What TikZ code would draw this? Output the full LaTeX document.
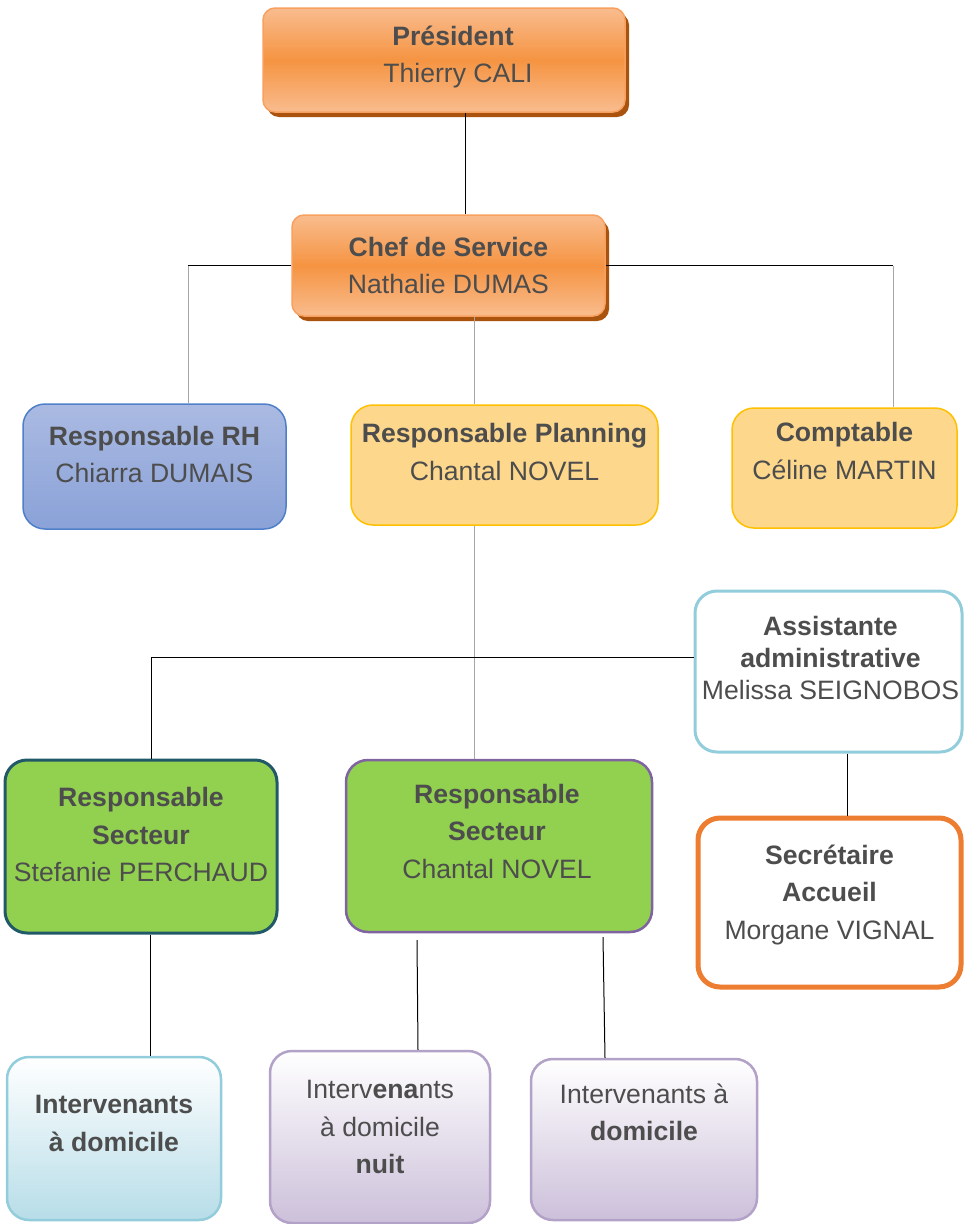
\documentclass[tikz,border=0pt]{standalone}
\usepackage{fontspec}
\setmainfont{Liberation Sans}
\usepackage{xcolor}
\usepackage{tikz}
\usetikzlibrary{shadows}

\definecolor{txtgray}{HTML}{4D4D4D}
\definecolor{linkgray}{HTML}{A6A6A6}
\definecolor{orgtop}{HTML}{F9BC8E}
\definecolor{orgmid}{HTML}{F59442}
\definecolor{orgline}{HTML}{F7A060}
\definecolor{orgshadow}{HTML}{A9530F}
\definecolor{rhtop}{HTML}{AABAE2}
\definecolor{rhbot}{HTML}{8AA2D8}
\definecolor{rhline}{HTML}{4F7FC8}
\definecolor{yelfill}{HTML}{FDD88C}
\definecolor{yelline}{HTML}{FFC000}
\definecolor{cyanline}{HTML}{92CDDC}
\definecolor{cyanbot}{HTML}{B7DDE8}
\definecolor{greenfill}{HTML}{92D050}
\definecolor{tealline}{HTML}{215968}
\definecolor{purpline}{HTML}{8064A2}
\definecolor{lilaline}{HTML}{B3A2C7}
\definecolor{lilabot}{HTML}{CCC0DA}
\definecolor{secline}{HTML}{ED7D31}

\begin{document}
\begin{tikzpicture}[
    x=1pt, y=-1pt,
    card/.style={rounded corners=22pt, line width=1.5pt},
    orgbox/.style={card, rounded corners=12pt, draw=orgline, shading=axis,
                   top color=orgtop, bottom color=orgtop, middle color=orgmid,
                   drop shadow={shadow xshift=4pt, shadow yshift=-5pt, fill=orgshadow, opacity=1}},
    txt/.style={align=center, text=txtgray, font=\fontsize{26.6}{37.5}\selectfont},
    link/.style={draw=black, line width=1pt},
    linkg/.style={draw=linkgray, line width=1pt},
  ]
    \useasboundingbox (0,0) rectangle (964,1224);

    % --- Direction ---
    \node[orgbox, minimum width=362, minimum height=104,
          label={[txt, xshift=9pt, yshift=3pt]center:{\textbf{Président}\hspace{10pt}\\\hspace{10pt}Thierry CALI}}] (pres) at (444,60) {};
    \node[orgbox, minimum width=313, minimum height=101,
          label={[txt]center:{\textbf{Chef de Service}\\Nathalie DUMAS}}] (chef) at (448.5,265.5) {};

    % --- Services ---
    \node[card, draw=rhline, top color=rhtop, bottom color=rhbot, minimum width=263, minimum height=125,
          label={[txt, yshift=12pt]center:{\textbf{Responsable RH}\\Chiarra DUMAIS}}] (rh) at (154.5,466.5) {};
    \node[card, draw=yelline, fill=yelfill, minimum width=307, minimum height=120,
          label={[txt, yshift=13pt]center:{\textbf{Responsable Planning}\\Chantal NOVEL}}] (plan) at (504.5,465) {};
    \node[card, draw=yelline, fill=yelfill, minimum width=225, minimum height=120,
          label={[txt, yshift=17pt]center:{\textbf{Comptable}\hspace{10pt}\\Céline MARTIN}}] (compt) at (844.5,468) {};

    % --- Administration ---
    \node[card, draw=cyanline, fill=white, line width=3pt, minimum width=267, minimum height=161,
          label={[txt, font=\fontsize{26.6}{32}\selectfont, xshift=2pt, yshift=14pt]center:{\textbf{Assistante}\\\textbf{administrative}\\Melissa SEIGNOBOS}}] (assist) at (828.5,671.5) {};
    \node[card, draw=secline, fill=white, line width=5pt, minimum width=263, minimum height=169,
          label={[txt, yshift=8pt]center:{\textbf{Secrétaire}\\\textbf{Accueil}\\Morgane VIGNAL}}] (sec) at (829.5,902.5) {};

    % --- Secteurs ---
    \node[card, draw=tealline, fill=greenfill, line width=3pt, minimum width=272, minimum height=173,
          label={[txt, yshift=12pt]center:{\textbf{Responsable}\\\textbf{Secteur}\\Stefanie PERCHAUD}}] (rs1) at (141,846.5) {};
    \node[card, draw=purpline, fill=greenfill, line width=2.5pt, minimum width=306, minimum height=172,
          label={[txt, xshift=-2pt, yshift=15pt]center:{\textbf{Responsable}\\\textbf{Secteur}\\Chantal NOVEL}}] (rs2) at (499,846) {};

    % --- Intervenants ---
    \node[card, draw=cyanline, top color=white, bottom color=cyanbot, line width=2.5pt, minimum width=214, minimum height=163,
          label={[txt, yshift=15pt]center:{\textbf{Intervenants}\\\textbf{à domicile}}}] (int1) at (114,1138.5) {};
    \node[card, draw=lilaline, top color=white, bottom color=lilabot, line width=2.5pt, minimum width=220, minimum height=172,
          label={[txt, yshift=10pt]center:{Interv\textbf{ena}nts\\à domicile\\\textbf{nuit}}}] (int2) at (380,1137) {};
    \node[card, draw=lilaline, top color=white, bottom color=lilabot, line width=2.5pt, minimum width=226, minimum height=161,
          label={[txt, yshift=27pt]center:{Intervenants à\\\textbf{domicile}}}] (int3) at (644,1139.5) {};

    % --- Links: direction ---
    \draw[link] (465,0 |- pres.south) -- (465,0 |- chef.north);
    \draw[link] (chef.west) -- (188,0 |- chef.west) coordinate (rhK);
    \draw[linkg] (rhK) -- (rhK |- rh.north);
    \draw[link] (chef.east) -- (893,0 |- chef.east) coordinate (comptK);
    \draw[linkg] (comptK) -- (comptK |- compt.north);
    \draw[linkg] (474,0 |- chef.south) -- (474,0 |- plan.north);

    % --- Links: planning ---
    \draw[linkg] (474,0 |- plan.south) -- (474,0 |- rs2.north);
    \draw[link] (assist.west |- 0,657) -| (151,0 |- rs1.north);
    \draw[link] (847,0 |- assist.south) -- (847,0 |- sec.north);

    % --- Links: intervenants ---
    \draw[link] (150,0 |- rs1.south) -- (150,0 |- int1.north);
    \draw[link] (417,940) -- (418,0 |- int2.north);
    \draw[link] (603,937) -- (605,0 |- int3.north);
  \end{tikzpicture}
\end{document}
